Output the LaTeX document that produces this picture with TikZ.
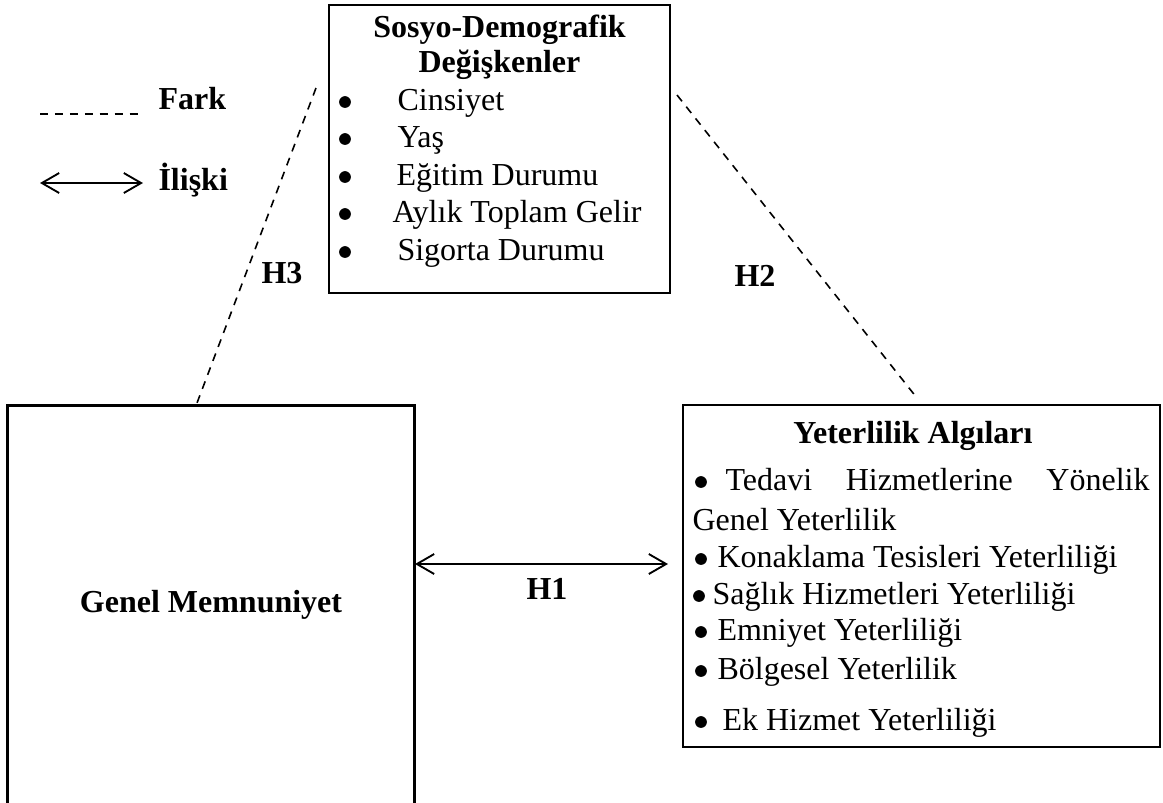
\documentclass[tikz,border=0pt]{standalone}
\usepackage{fontspec}
\setmainfont{Liberation Serif}
\usetikzlibrary{arrows.meta,positioning,fit}
\newcommand\yazi{\fontsize{12}{14}\selectfont}

\tikzset{
  kutu/.style={draw,line width=1pt,inner sep=0pt},
  fark/.style={line width=0.6pt,dash pattern=on 3pt off 2.6pt},
  iliski/.style={{Straight Barb[length=6.5pt,width=7.5pt]}-{Straight Barb[length=6.5pt,width=7.5pt]},line width=0.7pt},
  baslik/.style={font=\yazi\bfseries,inner sep=0pt,anchor=base},
  madde/.style={font=\yazi,inner sep=0pt,anchor=base west},
  nokta/.style={circle,fill,inner sep=0pt,minimum size=4.4pt},
}

\begin{document}
\begin{tikzpicture}[x=0.375pt,y=-0.375pt]
\useasboundingbox (0,0) rectangle (1163,802);

% legend
\draw[fark] (40,114) coordinate (fa) -- (143,114) coordinate (fb);
\node[baslik,anchor=base west] (fark) at (158,109) {Fark};
\draw[iliski] (40,183) coordinate (ia) -- (143,183) coordinate (ib);
\node[baslik,anchor=base west] (iliski) at (158,190) {İlişki};

% sosyo-demografik
\node[kutu,fit={(329,5) (670,293)}] (sdkutu) {};
\node[baslik] (sdb1) at (499.5,37) {Sosyo-Demografik};
\node[baslik] (sdb2) at (499.5,72) {Değişkenler};
\foreach \y/\x/\t [count=\i] in {110/397/Cinsiyet, 147/397/Yaş, 185/396/Eğitim Durumu,
    222/392/Aylık Toplam Gelir, 260/397/Sigorta Durumu}{
  \node[nokta] (sdn\i) at (345,\y-8) {};
  \node[madde] (sdm\i) at (\x,\y) {\t};
}

% genel memnuniyet (alt kenar yok)
\node[inner sep=0pt,fit={(8,406) (414,802)}] (gmkutu) {};
\draw[line width=1pt] (gmkutu.south west) |- (gmkutu.north east) -- (gmkutu.south east);
\node[baslik,anchor=center] (gm) at (211,605) {Genel Memnuniyet};

% yeterlilik algilari
\node[kutu,fit={(683,405) (1160,747)}] (yakutu) {};
\node[baslik] (yab) at (913,443) {Yeterlilik Algıları};
\node[nokta] (yan1) at (701,482) {};
\node[madde] (yam1) at (725,490) {\makebox[159pt][l]{Tedavi\hfill Hizmetlerine\hfill Yönelik}};
\node[madde] (yam1b) at (692,530) {Genel Yeterlilik};
\foreach \y/\b/\x/\t [count=\i from 2] in {567/701/717/Konaklama Tesisleri Yeterliliği,
    604/699/712/Sağlık Hizmetleri Yeterliliği, 640/701/717/Emniyet Yeterliliği,
    679/701/717/Bölgesel Yeterlilik, 730/701/722/Ek Hizmet Yeterliliği}{
  \node[nokta] (yan\i) at (\b,\y-8) {};
  \node[madde] (yam\i) at (\x,\y) {\t};
}

% hipotezler
\coordinate (h3a) at (316,88);
\coordinate (h3b) at (197,403);
\draw[fark] (h3a) -- (h3b);
\node[baslik,anchor=center] (h3) at (282,273) {H3};

\coordinate (h2a) at (677,95);
\coordinate (h2b) at (917,398);
\draw[fark] (h2a) -- (h2b);
\node[baslik,anchor=center] (h2) at (755,276) {H2};

\coordinate (h1a) at (415,564);
\coordinate (h1b) at (668,564);
\draw[iliski] (h1a) -- (h1b);
\node[baslik,anchor=center] (h1) at (547,589) {H1};
\end{tikzpicture}
\end{document}
